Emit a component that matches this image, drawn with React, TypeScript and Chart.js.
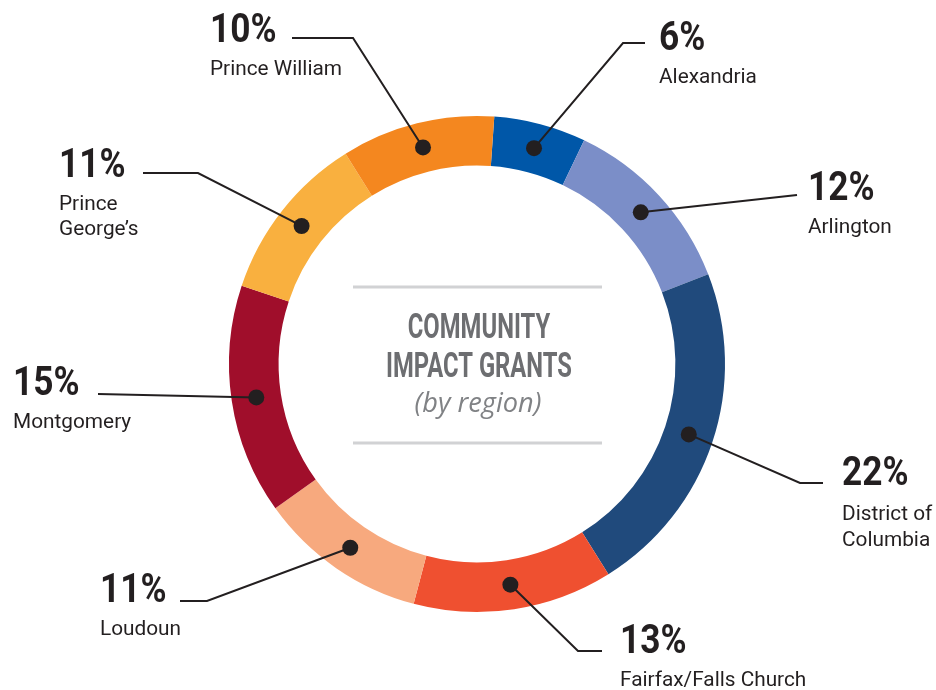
import React, { useEffect, useRef } from "react";
import { Chart, registerables } from "chart.js";

Chart.register(...registerables);

const regions = [
  "Alexandria",
  "Arlington",
  "District of Columbia",
  "Fairfax/Falls Church",
  "Loudoun",
  "Montgomery",
  "Prince George’s",
  "Prince William",
];
const shares = [6, 12, 22, 13, 11, 15, 11, 10];
const nameLines = [
  ["Alexandria"],
  ["Arlington"],
  ["District of", "Columbia"],
  ["Fairfax/Falls Church"],
  ["Loudoun"],
  ["Montgomery"],
  ["Prince", "George’s"],
  ["Prince William"],
];
const colors = [
  "#0057A8",
  "#7B8EC8",
  "#204A7C",
  "#EF5030",
  "#F7A97E",
  "#A00E2B",
  "#F9B03F",
  "#F4871F",
];
const centerTitle = ["COMMUNITY", "IMPACT GRANTS"];
const centerSub = "(by region)";

// label layout (text anchor, baselines, leader line end + optional elbow)
const labelLayout = [
  { x: 659, pct: 50, names: [83], end: [645, 43], elbow: [623, 43] },
  { x: 808, pct: 200, names: [233], end: [797, 195], elbow: null },
  { x: 842, pct: 485, names: [520, 546], end: [823, 483], elbow: [800, 483] },
  { x: 620, pct: 653, names: [686], end: [602, 651], elbow: [578, 651] },
  { x: 100, pct: 602, names: [635], end: [180, 601], elbow: [207, 601] },
  { x: 13, pct: 395, names: [428], end: [98, 394], elbow: null },
  { x: 59, pct: 177, names: [210, 235], end: [143, 173], elbow: [198, 173] },
  { x: 210, pct: 42, names: [75], end: [292, 38], elbow: [353, 38] },
];

const INK = "#231F20";

function drawScaled(
  ctx: CanvasRenderingContext2D,
  text: string,
  x: number,
  y: number,
  font: string,
  color: string,
  sx: number,
  align: CanvasTextAlign = "left"
) {
  ctx.save();
  ctx.translate(x, y);
  ctx.scale(sx, 1);
  ctx.font = font;
  ctx.fillStyle = color;
  ctx.textAlign = align;
  ctx.textBaseline = "alphabetic";
  ctx.fillText(text, 0, 0);
  ctx.restore();
}

const annotatePlugin = {
  id: "annotate",
  afterDatasetsDraw(chart: any) {
    const ctx: CanvasRenderingContext2D = chart.ctx;
    const meta = chart.getDatasetMeta(0);
    const arcs = meta.data;
    if (!arcs.length) return;
    const cx = arcs[0].x;
    const cy = arcs[0].y;

    // center text
    ctx.save();
    ctx.strokeStyle = "#D1D2D4";
    ctx.lineWidth = 3;
    [-77, 79].forEach((dy) => {
      ctx.beginPath();
      ctx.moveTo(cx - 124, cy + dy);
      ctx.lineTo(cx + 125, cy + dy);
      ctx.stroke();
    });
    ctx.restore();
    drawScaled(ctx, centerTitle[0], cx + 2, cy - 26, "bold 35px Roboto", "#6D6E71", 0.68, "center");
    drawScaled(ctx, centerTitle[1], cx + 2, cy + 13, "bold 35px Roboto", "#6D6E71", 0.68, "center");
    drawScaled(ctx, centerSub, cx + 1, cy + 48, "italic 28px 'Open Sans'", "#808285", 0.97, "center");

    arcs.forEach((arc: any, i: number) => {
      const p = arc.getProps(["x", "y", "startAngle", "endAngle", "innerRadius", "outerRadius"], true);
      const a = (p.startAngle + p.endAngle) / 2;
      const r = (p.innerRadius + p.outerRadius) / 2;
      const dx = p.x + Math.cos(a) * r;
      const dy = p.y + Math.sin(a) * r;
      const L = labelLayout[i];

      // leader line
      ctx.save();
      ctx.strokeStyle = INK;
      ctx.lineWidth = 2;
      ctx.beginPath();
      ctx.moveTo(L.end[0], L.end[1]);
      if (L.elbow) ctx.lineTo(L.elbow[0], L.elbow[1]);
      ctx.lineTo(dx, dy);
      ctx.stroke();
      // dot
      ctx.fillStyle = INK;
      ctx.beginPath();
      ctx.arc(dx, dy, 8, 0, Math.PI * 2);
      ctx.fill();
      ctx.restore();

      // labels
      drawScaled(ctx, `${shares[i]}%`, L.x, L.pct, "bold 41px Roboto", INK, 0.86);
      nameLines[i].forEach((ln, k) => {
        drawScaled(ctx, ln, L.x, L.names[k], "20px Roboto", INK, 1.04);
      });
    });
  },
};

export default function App() {
  const ref = useRef<HTMLCanvasElement | null>(null);
  useEffect(() => {
    document.body.style.margin = "0";
    const canvas = ref.current!;
    const chart = new Chart(canvas, {
      type: "doughnut",
      data: {
        labels: regions,
        datasets: [
          {
            data: shares,
            backgroundColor: colors,
            borderWidth: 0,
          },
        ],
      },
      options: {
        responsive: false,
        animation: false,
        rotation: 4,
        cutout: "80%",
        layout: { padding: { left: 229, right: 211, top: 116, bottom: 78 } },
        plugins: {
          legend: { display: false },
          tooltip: { enabled: false },
        },
      },
      plugins: [annotatePlugin],
    });
    return () => chart.destroy();
  }, []);
  return (
    <div style={{ position: "fixed", left: 0, top: 0, width: 936, height: 690, background: "#fff" }}>
      <canvas ref={ref} width={936} height={690} style={{ width: 936, height: 690 }} />
    </div>
  );
}
